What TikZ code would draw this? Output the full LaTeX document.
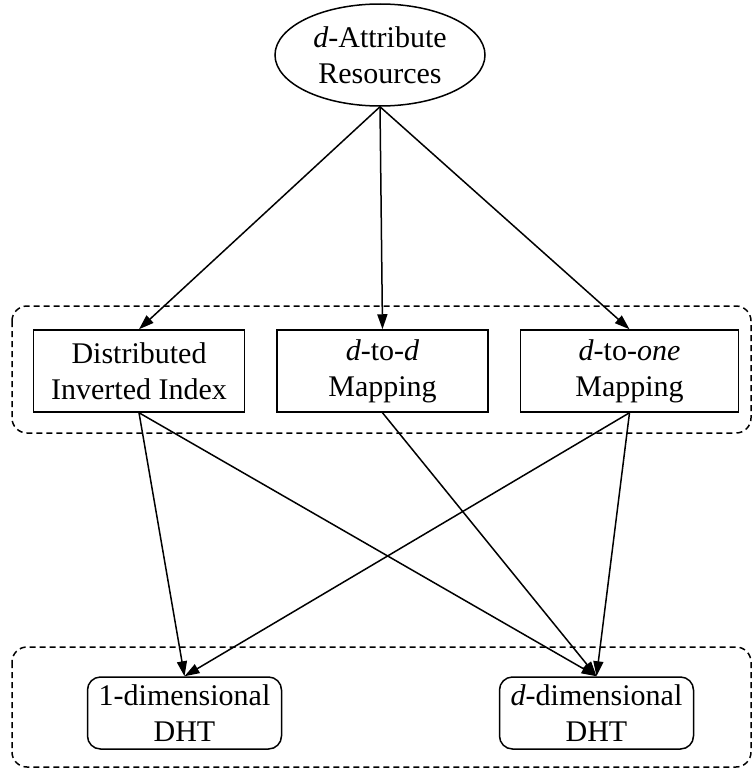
\documentclass[tikz,border=0pt]{standalone}
\usepackage{fontspec}
\setmainfont{Liberation Serif}
\usetikzlibrary{shapes.geometric,arrows.meta}
\begin{document}
\begin{tikzpicture}[x=1pt,y=-1pt,
  lbl/.style={font=\fontsize{30}{36}\selectfont, align=center, inner sep=0pt},
  box/.style={lbl, draw, line width=1.5pt, minimum height=82pt},
  res/.style={lbl, draw, ellipse, line width=1.5pt, minimum width=210pt, minimum height=102pt},
  dht/.style={lbl, draw, rounded corners=13pt, line width=1.5pt, minimum width=194pt, minimum height=72pt},
  group/.style={draw, dash pattern=on 6pt off 4pt, line width=1.5pt, rounded corners=15pt},
  arr/.style={line width=1.5pt, -{Triangle[length=15pt,width=10pt]}}
]
\useasboundingbox (0,0) rectangle (753,771);

% dashed groupings
\draw[group] (12,306) rectangle (751,433);
\draw[group] (12,647) rectangle (751,767);

% nodes
\node[res] (res) at (380,55) {\textit{d}-Attribute\\Resources};
\node[box, minimum width=211pt] (dii) at (139,371) {Distributed\\Inverted Index};
\node[box, minimum width=211pt] (dd) at (382.5,371) {\textit{d}-to-\textit{d}\\Mapping};
\node[box, minimum width=218pt] (done) at (629.5,371) {\textit{d}-to-\textit{one}\\Mapping};
\node[dht] (one) at (184.5,713) {1-dimensional\\DHT};
\node[dht] (ddim) at (596.5,713) {\textit{d}-dimensional\\DHT};

% connectors
\draw[arr] (res.south) -- (dii.north);
\draw[arr] (res.south) -- (dd.north);
\draw[arr] (res.south) -- (done.north);
\draw[arr] (dii.south) -- (one.north);
\draw[arr] (dii.south) -- (ddim.north);
\draw[arr] (dd.south) -- (ddim.north);
\draw[arr] (done.south) -- (one.north);
\draw[arr] (done.south) -- (ddim.north);
\end{tikzpicture}
\end{document}
